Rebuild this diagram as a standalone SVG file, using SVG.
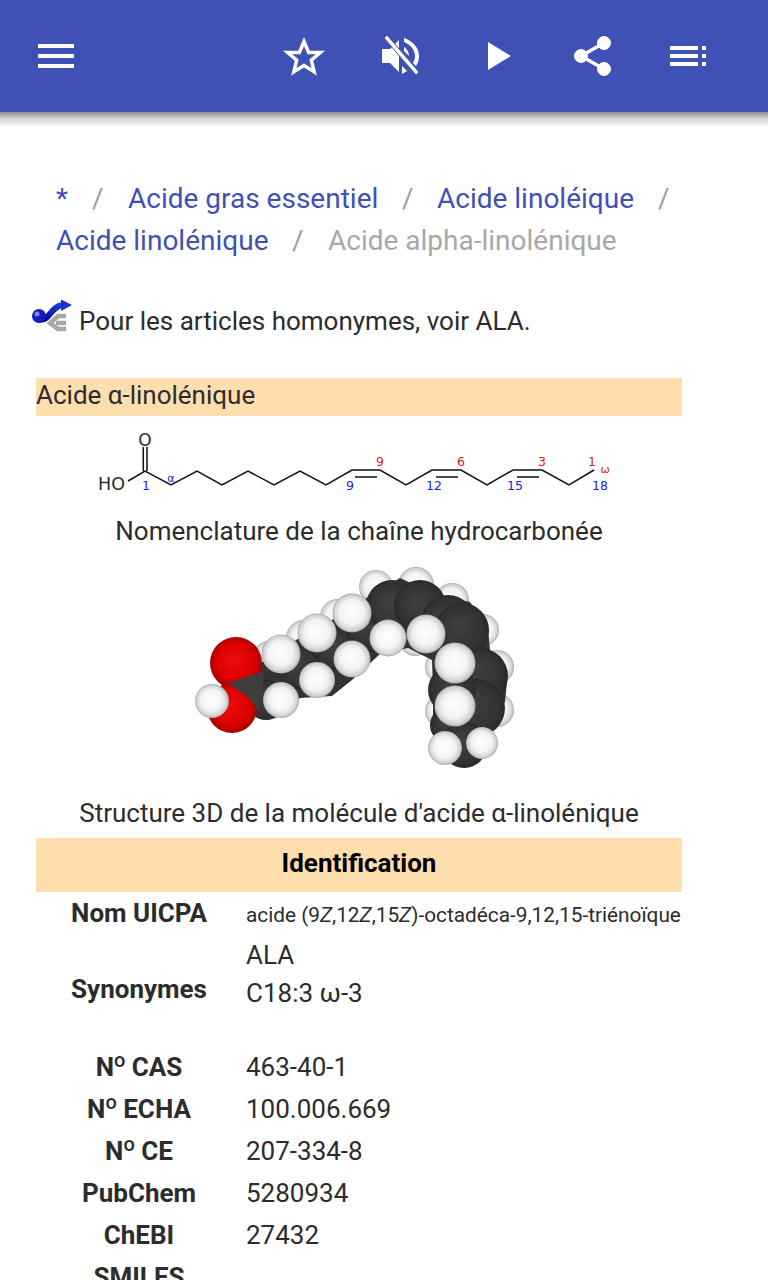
<svg xmlns="http://www.w3.org/2000/svg" width="768" height="1280" viewBox="0 0 768 1280">
<style>
text{font-family:Roboto,"Liberation Sans",sans-serif;fill:#2c2c2c}
.crumb{font-size:28px}
.link{fill:#3f51b5}
.sep{fill:#9e9e9e}
.body{font-size:26px}
.key{font-size:26px;font-weight:700;text-anchor:middle}
.sup{font-size:20px;font-weight:500}
.chem{font-family:"DejaVu Sans",sans-serif}
.blue{fill:#2020e0;font-size:12.5px;text-anchor:middle}
.red{fill:#e02020;font-size:12.5px;text-anchor:middle}
.bond{fill:none;stroke:#111;stroke-width:1.5}
.ic{fill:#fff}
.h{fill:url(#gH)}.c{fill:url(#gC)}.o{fill:url(#gO)}
</style>
<defs>
<linearGradient id="sh" x1="0" y1="0" x2="0" y2="1"><stop offset="0" stop-color="#000" stop-opacity=".45"/><stop offset=".4" stop-color="#000" stop-opacity=".17"/><stop offset="1" stop-color="#000" stop-opacity="0"/></linearGradient>
<radialGradient id="gH" cx=".5" cy=".5" r=".52" fx=".47" fy=".45"><stop offset="0" stop-color="#fff"/><stop offset=".6" stop-color="#f3f3f3"/><stop offset=".86" stop-color="#d2d2d2"/><stop offset="1" stop-color="#9a9a9a"/></radialGradient>
<radialGradient id="gC" cx=".5" cy=".5" r=".52" fx=".42" fy=".4"><stop offset="0" stop-color="#404040"/><stop offset=".75" stop-color="#333"/><stop offset="1" stop-color="#282828"/></radialGradient>
<radialGradient id="gO" cx=".5" cy=".5" r=".55" fx=".45" fy=".42"><stop offset="0" stop-color="#ee0c0c"/><stop offset=".65" stop-color="#dc0000"/><stop offset="1" stop-color="#950000"/></radialGradient>
<linearGradient id="arrow" x1="0" y1="1" x2="1" y2="0"><stop offset="0" stop-color="#00008b"/><stop offset="1" stop-color="#1f3fe0"/></linearGradient>
</defs>
<rect width="768" height="1280" fill="#fff"/>
<rect y="112" width="768" height="16" fill="url(#sh)"/>
<rect id="appbar" width="768" height="112" fill="#3f51b5"/>
<g id="icon-menu" class="ic"><rect x="38" y="44" width="36" height="4"/><rect x="38" y="54" width="36" height="4"/><rect x="38" y="64" width="36" height="4"/></g>
<path id="icon-star" d="M304 41.500l4.600 11h11.800l-9.100 7.700 2.900 11.600L304 65.500l-10.200 6.300 2.900-11.600-9.100-7.700h11.800z" fill="none" stroke="#fff" stroke-width="3.400"/>
<g id="icon-mute" fill="#fff"><path d="M382 49h8l9-9v32l-9-9h-8z"/><path d="M404 38c9 3 15 10 15 18 0 4-1 7-3 10l-3-3c1-2 2-4 2-7 0-6-5-12-11-14z"/><path d="M404 47c3 2 5 5 5 9l-5-5z"/><path d="M402 66l5 5-5 3z"/><path d="M384 38l3-3 32 37-3 3z" stroke="#3f51b5" stroke-width="1"/></g>
<path id="icon-play" class="ic" d="M488 42l23 14-23 14z"/>
<g id="icon-share" fill="#fff" stroke="#fff"><circle cx="604" cy="43" r="6.500"/><circle cx="581" cy="56" r="6.500"/><circle cx="604" cy="69" r="6.500"/><path d="M604 43L581 56L604 69" fill="none" stroke-width="3.400"/></g>
<g id="icon-list" class="ic"><rect x="670" y="46" width="28" height="4"/><rect x="670" y="54" width="28" height="4"/><rect x="670" y="62" width="28" height="4"/><rect x="702" y="46" width="4" height="4"/><rect x="702" y="54" width="4" height="4"/><rect x="702" y="62" width="4" height="4"/></g>

<g id="breadcrumb">
<text x="56" y="208" class="crumb link">*</text><text x="92" y="208" class="crumb sep">/</text>
<text x="128" y="208" class="crumb link">Acide gras essentiel</text><text x="402" y="208" class="crumb sep">/</text>
<text x="437" y="208" class="crumb link">Acide linoléique</text><text x="658" y="208" class="crumb sep">/</text>
<text x="56" y="250" class="crumb link">Acide linolénique</text><text x="292" y="250" class="crumb sep">/</text>
<text x="328" y="250" class="crumb" style="fill:#a8a8a8">Acide alpha-linolénique</text>
</g>

<g id="hatnote">
<path d="M66 316H58L50 323L58 329H66M66 323H56" fill="none" stroke="#a8a8a8" stroke-width="4.500"/>
<path d="M38 319C50 323 50 306 63 305" fill="none" stroke="url(#arrow)" stroke-width="6"/>
<path d="M61 299.500L72 305L61 311z" fill="#1a2fd0"/>
<circle cx="39" cy="316" r="7" fill="#1a1ab8"/><circle cx="37" cy="314" r="2.500" fill="#7a86ee"/>
<text x="79" y="330" class="body">Pour les articles homonymes, voir ALA.</text>
</g>

<rect id="title-band" x="36" y="378" width="646" height="38" fill="#ffdead"/>
<text x="36" y="404" class="body">Acide α-linolénique</text>

<g id="skeletal">
<path class="bond" d="M128 481L145 471L171 485L197 471L222 485L248 471L274 485L300 471L326 485L352 470H380L406 485L432 470H461L487 485L513 470H542L569 485L594 470"/>
<path class="bond" d="M143.300 471V447M147 471V447M355 477H377M436 477H458M517 477H539"/>
<text class="chem" x="145" y="446" font-size="17" text-anchor="middle">O</text>
<text class="chem" x="111.500" y="490" font-size="17.500" text-anchor="middle">HO</text>
<text class="chem blue" x="146" y="490">1</text><text class="chem blue" x="171" y="482" style="font-size:11px">α</text><text class="chem blue" x="350" y="490">9</text><text class="chem blue" x="434" y="490">12</text><text class="chem blue" x="515" y="490">15</text><text class="chem blue" x="600" y="490">18</text>
<text class="chem red" x="380" y="466">9</text><text class="chem red" x="461" y="466">6</text><text class="chem red" x="542" y="466">3</text><text class="chem red" x="592" y="466">1</text><text class="chem red" x="605" y="473" style="font-size:11px">ω</text>
</g>
<text x="359" y="540" class="body" text-anchor="middle">Nomenclature de la chaîne hydrocarbonée</text>

<g id="molecule">
<circle class="h" cx="270" cy="660" r="19"/><circle class="h" cx="304" cy="638" r="18"/><circle class="h" cx="338" cy="617" r="18"/><circle class="h" cx="376" cy="587" r="17"/><circle class="h" cx="416" cy="585" r="18"/><circle class="h" cx="452" cy="600" r="17"/><circle class="h" cx="483" cy="630" r="16"/><circle class="h" cx="497" cy="667" r="17"/><circle class="h" cx="497" cy="710" r="17"/><circle class="h" cx="441" cy="667" r="16"/><circle class="h" cx="441" cy="711" r="16"/>
<circle class="h" cx="415" cy="640" r="16"/>
<path d="M250 675L262 662L296 640L332 620L368 597L400 578L435 594L470 602L488 628L490 650L507 682L505 702L490 722L481 750L465 768L448 755L433 722V690L432 660L408 648L380 654L352 680L332 696L300 698L280 716L266 720L256 708z" fill="#333"/>
<circle class="c" cx="266" cy="700" r="20"/><circle class="c" cx="300" cy="668" r="22"/><circle class="c" cx="335" cy="648" r="22"/><circle class="c" cx="370" cy="628" r="24"/><circle class="c" cx="392" cy="606" r="26"/><circle class="c" cx="420" cy="606" r="26"/><circle class="c" cx="448" cy="622" r="27"/><circle class="c" cx="462" cy="630" r="27"/><circle class="c" cx="480" cy="676" r="28"/><circle class="c" cx="476" cy="708" r="29"/><circle class="c" cx="452" cy="690" r="24"/><circle class="c" cx="448" cy="725" r="18"/><circle class="c" cx="464" cy="745" r="23"/>
<circle class="h" cx="281" cy="654" r="19.500"/><circle class="h" cx="281" cy="700" r="18"/><circle class="h" cx="317" cy="633" r="19.500"/><circle class="h" cx="317" cy="680" r="18"/><circle class="h" cx="352" cy="613" r="19.500"/><circle class="h" cx="352" cy="659" r="18.500"/><circle class="h" cx="388" cy="638" r="18.500"/><circle class="h" cx="426" cy="634" r="19.500"/><circle class="h" cx="455" cy="663" r="20.500"/><circle class="h" cx="455" cy="706" r="20.500"/><circle class="h" cx="445" cy="748" r="17"/><circle class="h" cx="482" cy="743" r="16"/>
<circle class="o" cx="236" cy="663" r="26"/><circle class="o" cx="232" cy="708" r="25"/>
<path d="M228 683L264 671L262 693L258 710L248 697z" fill="#3e3e3e"/>
<circle class="h" cx="212" cy="701" r="17"/>
</g>
<text x="359" y="822" class="body" text-anchor="middle">Structure 3D de la molécule d'acide α-linolénique</text>

<rect id="id-band" x="36" y="838" width="646" height="54" fill="#ffdead"/>
<text x="359" y="872" class="key" style="fill:#000">Identification</text>

<g id="table">
<text x="139" y="922" class="key">Nom UICPA</text>
<text x="246" y="922" style="font-size:20.800px">acide (9<tspan font-style="italic">Z</tspan>,12<tspan font-style="italic">Z</tspan>,15<tspan font-style="italic">Z</tspan>)-octadéca-9,12,15-triénoïque</text>
<text x="246" y="964" class="body">ALA</text>
<text x="139" y="998" class="key">Synonymes</text>
<text x="246" y="1002" class="body">C18:3 ω-3</text>
<text x="139" y="1076" class="key">N<tspan class="sup" dy="-9">o</tspan><tspan dy="9"> CAS</tspan></text>
<text x="246" y="1076" class="body">463-40-1</text>
<text x="139" y="1118" class="key">N<tspan class="sup" dy="-9">o</tspan><tspan dy="9"> ECHA</tspan></text>
<text x="246" y="1118" class="body">100.006.669</text>
<text x="139" y="1160" class="key">N<tspan class="sup" dy="-9">o</tspan><tspan dy="9"> CE</tspan></text>
<text x="246" y="1160" class="body">207-334-8</text>
<text x="139" y="1202" class="key">PubChem</text>
<text x="246" y="1202" class="body">5280934</text>
<text x="139" y="1244" class="key">ChEBI</text>
<text x="246" y="1244" class="body">27432</text>
<text x="139" y="1286" class="key">SMILES</text>
</g>
</svg>
